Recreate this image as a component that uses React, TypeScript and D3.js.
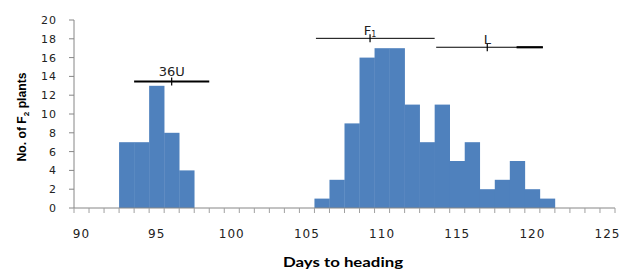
import * as d3 from "d3";
import { useEffect, useRef } from "react";

// days to heading categories shown on the axis
const days = d3.range(90, 126);
// number of F2 plants per day
const counts: { [key: number]: number } = {};
const barDays = [93, 94, 95, 96, 97, 106, 107, 108, 109, 110, 111, 112, 113, 114, 115, 116, 117, 118, 119, 120, 121];
const barCounts = [7, 7, 13, 8, 4, 1, 3, 9, 16, 17, 17, 11, 7, 11, 5, 7, 2, 3, 5, 2, 1];
barDays.forEach((d, i) => (counts[d] = barCounts[i]));

const yTicks = [0, 2, 4, 6, 8, 10, 12, 14, 16, 18, 20];
const xTickLabels = [90, 95, 100, 105, 110, 115, 120, 125];

// parent / F1 mean and range bars
const annotNames = ["36U", "F", "L"];
const annotMeans = [96, 109.2, 117];
const annotLow = [93.5, 105.6, 113.6];
const annotHigh = [98.5, 113.5, 120.7];
const annotLevel = [13.45, 18.05, 17.1];

export default function App() {
  const ref = useRef(null);

  useEffect(() => {
    var width = 623;
    var height = 271;

    var svg = d3
      .select(ref.current)
      .append("svg")
      .attr("width", width)
      .attr("height", height)
      .style("position", "absolute")
      .style("left", 0)
      .style("top", 0)
      .style("font-family", "'DejaVu Sans', sans-serif");

    var x = d3.scaleBand<number>().domain(days).range([74, 615]).padding(0);
    // continuous version of the same axis, for the mean / range bars
    var xc = d3.scaleLinear().domain([89.5, 125.5]).range([74, 615]);
    var y = d3.scaleLinear().domain([0, 20]).range([208, 20]);

    // bars
    svg
      .selectAll("rect.bar")
      .data(barDays)
      .enter()
      .append("rect")
      .attr("class", "bar")
      .attr("x", (d) => x(d) as number)
      .attr("width", x.bandwidth() + 0.3)
      .attr("y", (d) => y(counts[d]))
      .attr("height", (d) => y(0) - y(counts[d]))
      .attr("fill", "#4f81bd");

    // y axis
    svg
      .append("line")
      .attr("x1", 74)
      .attr("x2", 74)
      .attr("y1", y(0))
      .attr("y2", y(20))
      .attr("stroke", "#868686");
    svg
      .selectAll("line.ytick")
      .data(yTicks)
      .enter()
      .append("line")
      .attr("x1", 69)
      .attr("x2", 74)
      .attr("y1", (d) => y(d))
      .attr("y2", (d) => y(d))
      .attr("stroke", "#868686");
    svg
      .selectAll("text.ylab")
      .data(yTicks)
      .enter()
      .append("text")
      .attr("x", 57)
      .attr("y", (d) => y(d) + 4)
      .attr("text-anchor", "end")
      .style("font-size", "11px")
      .style("letter-spacing", "1px")
      .attr("fill", "#222")
      .text((d) => d);

    // x axis
    svg
      .append("line")
      .attr("x1", 74)
      .attr("x2", 615)
      .attr("y1", y(0))
      .attr("y2", y(0))
      .attr("stroke", "#868686");
    svg
      .selectAll("line.xtick")
      .data(days.concat([126]))
      .enter()
      .append("line")
      .attr("x1", (d) => xc(d - 0.5))
      .attr("x2", (d) => xc(d - 0.5))
      .attr("y1", y(0))
      .attr("y2", y(0) + 5)
      .attr("stroke", "#a0a0a0");
    svg
      .selectAll("text.xlab")
      .data(xTickLabels)
      .enter()
      .append("text")
      .attr("x", (d) => (x(d) as number) + x.bandwidth() / 2)
      .attr("y", 238)
      .attr("text-anchor", "middle")
      .style("font-size", "12px")
      .style("letter-spacing", "1px")
      .attr("fill", "#222")
      .text((d) => d);

    // axis titles
    svg
      .append("text")
      .attr("x", 343)
      .attr("y", 267)
      .attr("text-anchor", "middle")
      .attr("textLength", 120)
      .attr("lengthAdjust", "spacingAndGlyphs")
      .style("font-family", "Lato, sans-serif")
      .style("font-weight", "bold")
      .style("font-size", "12.5px")
      .text("Days to heading");

    var yt = svg
      .append("text")
      .attr("transform", "translate(26,117) rotate(-90)")
      .attr("text-anchor", "middle")
      .attr("textLength", 89)
      .attr("lengthAdjust", "spacingAndGlyphs")
      .style("font-family", "'Liberation Sans', Arial, sans-serif")
      .style("font-weight", "bold")
      .style("font-size", "12px");
    yt.append("tspan").text("No. of F");
    yt.append("tspan").attr("dy", 3).style("font-size", "8px").text("2");
    yt.append("tspan").attr("dy", -3).text(" plants");

    // mean / range bars
    var widths = [2, 1, 1.2];
    annotNames.forEach((name, i) => {
      var ly = y(annotLevel[i]);
      var mx = xc(annotMeans[i]);
      svg
        .append("line")
        .attr("x1", xc(annotLow[i]))
        .attr("x2", xc(annotHigh[i]))
        .attr("y1", ly)
        .attr("y2", ly)
        .attr("stroke", "#000")
        .attr("stroke-width", widths[i]);
      svg
        .append("line")
        .attr("x1", mx)
        .attr("x2", mx)
        .attr("y1", ly - 4)
        .attr("y2", ly + 4)
        .attr("stroke", "#000")
        .attr("stroke-width", 1.2);
      var t = svg
        .append("text")
        .attr("x", mx)
        .attr("y", ly - (i == 0 ? 6 : 3))
        .attr("text-anchor", "middle")
        .style("font-size", "13px")
        .attr("fill", "#222")
        .text(name);
      if (name == "F") {
        t.append("tspan").attr("dy", 2).style("font-size", "8px").text("1");
      }
    });
    // heavier right end of the L range bar
    svg
      .append("line")
      .attr("x1", xc(annotHigh[2] - 1.75))
      .attr("x2", xc(annotHigh[2]))
      .attr("y1", y(annotLevel[2]))
      .attr("y2", y(annotLevel[2]))
      .attr("stroke", "#000")
      .attr("stroke-width", 2.2);

    return function () {
      svg.remove();
    };
  }, []);

  return <div ref={ref} />;
}
